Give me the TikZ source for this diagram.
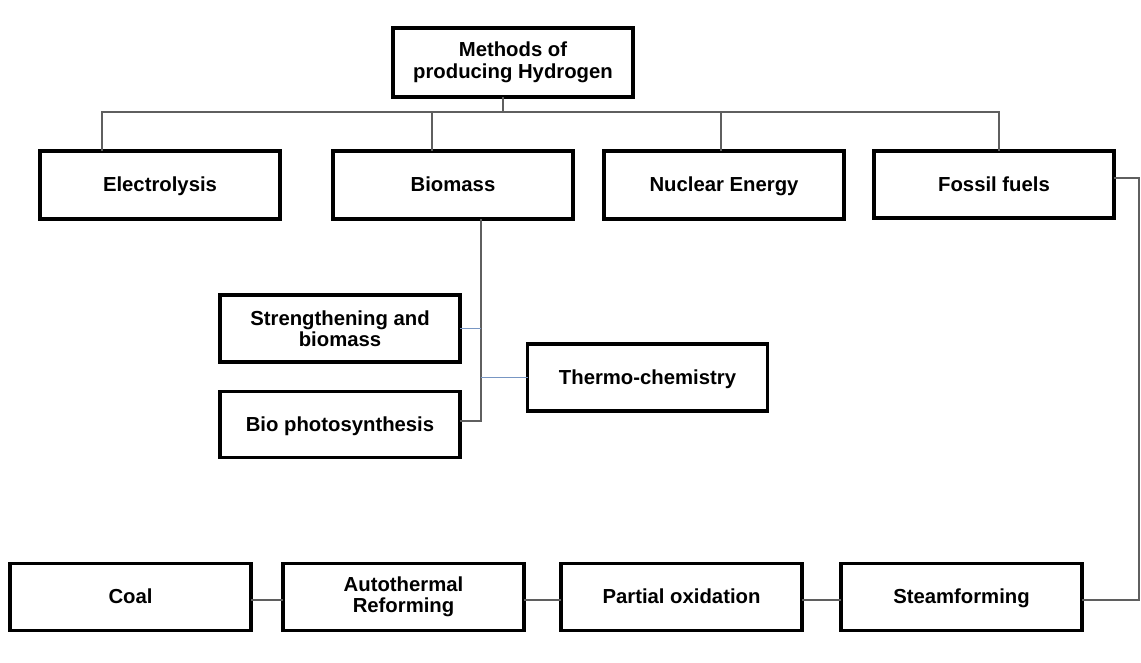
\documentclass[tikz,border=0pt]{standalone}
\usepackage{fontspec}
\setmainfont{Liberation Sans}
\definecolor{linegray}{RGB}{95,95,95}
\definecolor{lineblue}{RGB}{120,150,195}
\begin{document}
\begin{tikzpicture}[x=1pt,y=-1pt,
  box/.style={draw=black, line width=3.2pt, fill=white, minimum width=240pt,
    minimum height=68pt, inner sep=0pt, outer sep=0pt, align=center,
    font=\fontsize{20.3}{21.5}\selectfont\bfseries},
  onebox/.style={box, text height=14.6pt, text depth=1.5pt},
  conn/.style={draw=linegray, line width=1.4pt},
  bconn/.style={draw=lineblue, line width=1.4pt}]
\useasboundingbox[fill=white] (0,0) rectangle (1141,663);

% nodes
\node[box, minimum height=69pt] (top) at (513,62.5) {Methods of\\producing Hydrogen};
\node[onebox] (electro) at (160,185) {Electrolysis};
\node[onebox] (biomass) at (453,185) {Biomass};
\node[onebox] (nuclear) at (724,185) {Nuclear Energy};
\node[onebox, minimum height=67pt] (fossil) at (994,184.5) {Fossil fuels};

\node[box, minimum height=67pt] (strength) at (340,328.5) {Strengthening and\\biomass};
\node[onebox, minimum height=66pt] (biophoto) at (340,424.5) {Bio photosynthesis};
\node[onebox, minimum height=67pt] (thermo) at (647.5,377.5) {Thermo-chemistry};

\node[onebox, minimum width=241pt, minimum height=67pt] (coal) at (130.5,597) {Coal};
\node[box, minimum width=241pt, minimum height=67pt] (auto) at (403.5,597) {Autothermal\\Reforming};
\node[onebox, minimum width=241pt, minimum height=67pt] (partial) at (681.5,597) {Partial oxidation};
\node[onebox, minimum width=241pt, minimum height=67pt] (steam) at (961.5,597) {Steamforming};

% top tree
\draw[conn] ([xshift=-10pt]top.south) -- ++(0,15);
\draw[conn] ([xshift=-58pt]electro.north) -- ++(0,-39) -| ([xshift=5pt]fossil.north);
\draw[conn] ([xshift=-21pt]biomass.north) -- ++(0,-39);
\draw[conn] ([xshift=-3pt]nuclear.north) -- ++(0,-39);

% biomass branch
\coordinate (vx) at ([xshift=28pt]biomass.south);
\draw[conn] (vx) |- ([yshift=3.5pt]biophoto.east);
\draw[bconn] (strength.east) -- (strength.east -| vx);
\draw[bconn] (thermo.west) -- (thermo.west -| vx);

% fossil fuels chain
\draw[conn] ([yshift=6.5pt]fossil.east) -- ++(25,0) |- ([yshift=-3pt]steam.east);
\draw[conn] ([yshift=-3pt]steam.west) -- ([yshift=-3pt]partial.east);
\draw[conn] ([yshift=-3pt]partial.west) -- ([yshift=-3pt]auto.east);
\draw[conn] ([yshift=-3pt]auto.west) -- ([yshift=-3pt]coal.east);
\end{tikzpicture}
\end{document}
